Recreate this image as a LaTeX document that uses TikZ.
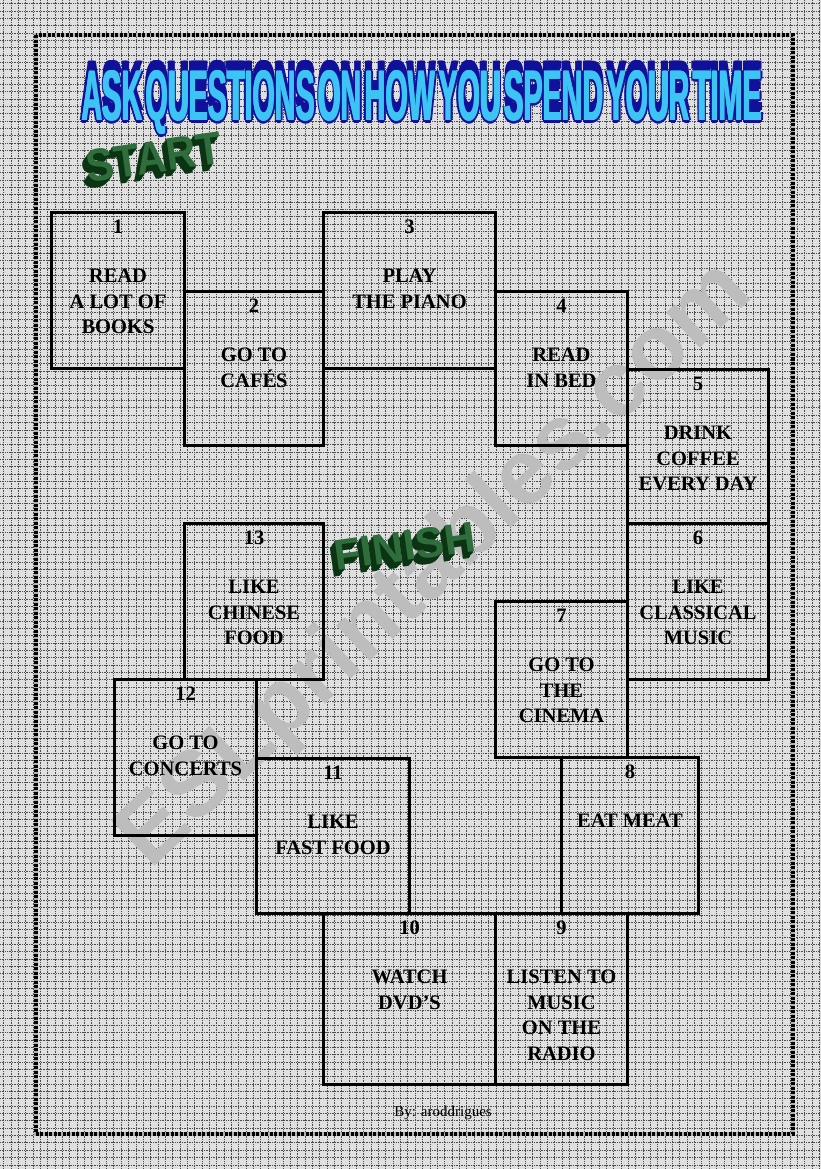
\documentclass[tikz,border=0pt]{standalone}
\usepackage{fontspec}
\usepackage{graphicx}
\setmainfont{Liberation Serif}
\newfontfamily\titlefont{Liberation Sans}
\definecolor{bggray}{HTML}{E0E0E0}
\definecolor{titlelight}{HTML}{3CC4F4}
\definecolor{titledark}{HTML}{10109A}
\definecolor{gface}{HTML}{2F6E3C}
\definecolor{gdark}{HTML}{0B3512}
\definecolor{wmgray}{HTML}{BDBDBD}
\tikzset{
  gridline/.style={black!70, line width=0.6pt, dash pattern=on 0.8pt off 0.9pt},
  boxshape/.style={draw=black, line width=3pt, inner sep=0pt, anchor=north west},
  numtext/.style={font=\bfseries\fontsize{20.5}{24}\selectfont, inner sep=0pt},
  lbltext/.style={font=\bfseries\fontsize{20.5}{25.5}\selectfont, align=center, inner sep=0pt, anchor=north},
  pageborder/.style={line width=4pt, draw=black, dash pattern=on 3pt off 1.5pt},
}
\newcommand\mkbox[7]{%
  \node[boxshape, minimum width={#4-#2}, minimum height={#5-#3}] (#1) at (#2,#3) {};
  \node[numtext] (#1n) at ([yshift=-16pt]#1.north) {#6};
  \node[lbltext] (#1t) at ([yshift=-58pt]#1.north) {#7};
}
\newcommand\titletext{\resizebox{680pt}{50pt}{\titlefont\bfseries ASK\hspace{0.12em}QUESTIONS\hspace{0.12em}ON\hspace{0.12em}HOW\hspace{0.12em}YOU\hspace{0.12em}SPEND\hspace{0.12em}YOUR\hspace{0.12em}TIME}}
\newcommand\starttext{\resizebox{136pt}{32pt}{\titlefont\bfseries START}}
\newcommand\finishtext{\resizebox{142pt}{30pt}{\titlefont\bfseries FINISH}}
\begin{document}
\begin{tikzpicture}[x=1pt,y=-1pt]
\useasboundingbox (0,0) rectangle (821,1169);
\fill[bggray] (0,0) rectangle (821,1169);
\foreach \x in {3.5,10.85,...,821} \draw[gridline] (\x,0) -- (\x,1169);
\foreach \y in {3.5,10.85,...,1169} \draw[gridline] (0,\y) -- (821,\y);
% watermark
\node[rotate=43.5, text=wmgray, inner sep=0pt, font=\titlefont\bfseries\fontsize{92}{92}\selectfont] (wm) at (436,566) {ESLprintables.com};
% page border
\draw[line width=4pt, draw=gray!60] (35.5,35.5) rectangle (792.5,1133.5);
\draw[pageborder] (35.5,35.5) rectangle (792.5,1133.5);
% title
\foreach \dx/\dy [count=\i] in {-2.2/0,2.2/0,0/2.2,-1.6/1.6,1.6/1.6,0/-4,0/-7,0/-10,1.5/-10,-1.5/-10}
  \node[text=titledark, inner sep=0pt] (tsh\i) at (422+\dx,103+\dy) {\titletext};
\foreach \dx [count=\i] in {-0.7,0.7}
  \node[text=titlelight, inner sep=0pt] (tface\i) at (422+\dx,103) {\titletext};
\node[text=titlelight, inner sep=0pt] (title) at (422,103) {\titletext};
% start
\foreach \k in {1,...,7}
  \node[text=gdark, inner sep=0pt, rotate=8] (ssh\k) at (154-0.7*\k,157+\k) {\starttext};
\node[text=gface, inner sep=0pt, rotate=8] (start) at (154,157) {\starttext};
% finish
\foreach \k in {1,...,7}
  \node[text=gdark, inner sep=0pt, rotate=8] (fsh\k) at (405-0.7*\k,546+\k) {\finishtext};
\node[text=gface, inner sep=0pt, rotate=8] (finish) at (405,546) {\finishtext};
% boxes
\mkbox{b1}{50}{211}{183}{367}{1}{READ\\A LOT OF\\BOOKS}
\mkbox{b3}{322}{211}{494}{367}{3}{PLAY\\THE PIANO}
\mkbox{b2}{183}{290}{322}{444}{2}{GO TO\\CAFÉS}
\mkbox{b4}{494}{290}{626}{444}{4}{READ\\IN BED}
\mkbox{b5}{626}{368}{767}{522}{5}{DRINK\\COFFEE\\EVERY DAY}
\mkbox{b6}{626}{522}{767}{678}{6}{LIKE\\CLASSICAL\\MUSIC}
\mkbox{b7}{494}{600}{626}{756}{7}{GO TO\\THE\\CINEMA}
\mkbox{b13}{183}{522}{322}{678}{13}{LIKE\\CHINESE\\FOOD}
\mkbox{b12}{113}{678}{255}{834}{12}{GO TO\\CONCERTS}
\mkbox{b11}{255}{757}{408}{912}{11}{LIKE\\FAST FOOD}
\mkbox{b8}{560}{756}{697}{912}{8}{EAT MEAT}
\mkbox{b10}{322}{912}{494}{1083}{10}{WATCH\\DVD’S}
\mkbox{b9}{494}{912}{626}{1083}{9}{LISTEN TO\\MUSIC\\ON THE\\RADIO}
\node[font=\fontsize{15}{18}\selectfont, inner sep=0pt] (by) at (443,1113) {By: aroddrigues};
\end{tikzpicture}
\end{document}
